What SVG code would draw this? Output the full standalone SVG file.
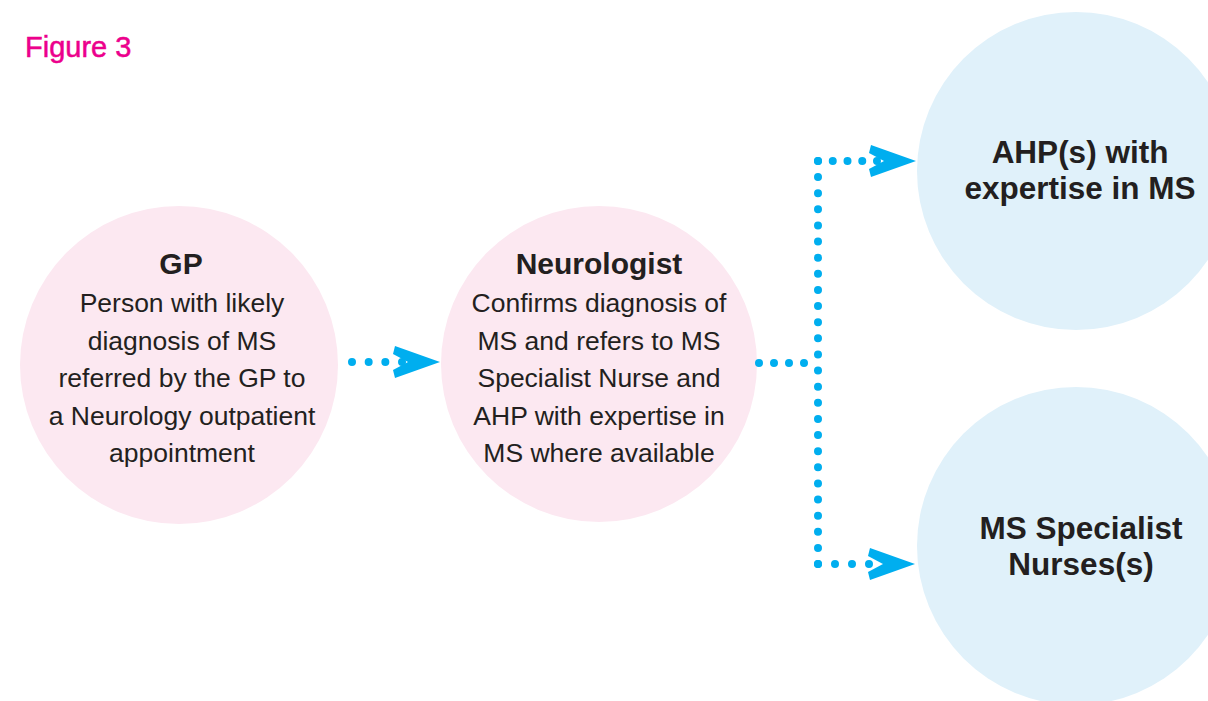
<svg xmlns="http://www.w3.org/2000/svg" width="1208" height="701" viewBox="0 0 1208 701">
<style>
.pink{fill:#fce8f1}
.blue{fill:#e0f1fa}
.title{font-family:"Liberation Sans",Arial,sans-serif;font-weight:bold;font-size:30px;fill:#231f20;text-anchor:middle}
.big{font-family:"Liberation Sans",Arial,sans-serif;font-weight:bold;font-size:31.5px;fill:#231f20;text-anchor:middle}
.body{font-family:"Liberation Sans",Arial,sans-serif;font-size:26.5px;fill:#231f20;text-anchor:middle}
.dots{stroke:#00aeef;stroke-width:8;stroke-linecap:round;fill:none}
.head{fill:#00aeef}
</style>
<defs>
<polygon id="chev" points="0,0 -45,-16 -47,-8 -32,0 -47,8 -45,16"/>
</defs>
<rect width="1208" height="701" fill="#ffffff"/>
<text x="25" y="57" font-family="'Liberation Sans',Arial,sans-serif" font-size="29" fill="#ec008c" stroke="#ec008c" stroke-width="0.5">Figure 3</text>
<g id="gp">
<circle class="pink" cx="179" cy="365" r="159"/>
<text class="title" x="181" y="274">GP</text>
<text class="body" x="182" y="312">Person with likely</text>
<text class="body" x="182" y="349.5">diagnosis of MS</text>
<text class="body" x="182" y="387">referred by the GP to</text>
<text class="body" x="182" y="424.5">a Neurology outpatient</text>
<text class="body" x="182" y="462">appointment</text>
</g>
<g id="neurologist">
<circle class="pink" cx="599" cy="364" r="158"/>
<text class="title" x="599" y="274">Neurologist</text>
<text class="body" x="599" y="312">Confirms diagnosis of</text>
<text class="body" x="599" y="349.5">MS and refers to MS</text>
<text class="body" x="599" y="387">Specialist Nurse and</text>
<text class="body" x="599" y="424.5">AHP with expertise in</text>
<text class="body" x="599" y="462">MS where available</text>
</g>
<g id="ahp">
<circle class="blue" cx="1076" cy="171" r="159"/>
<text class="big" x="1080" y="163">AHP(s) with</text>
<text class="big" x="1080" y="199">expertise in MS</text>
</g>
<g id="nurse">
<circle class="blue" cx="1076" cy="546" r="159"/>
<text class="big" x="1081" y="539">MS Specialist</text>
<text class="big" x="1081" y="575">Nurses(s)</text>
</g>
<g id="connectors">
<line class="dots" x1="352" y1="362" x2="403" y2="362" stroke-dasharray="0 16.67"/>
<use href="#chev" class="head" x="440" y="362"/>
<line class="dots" x1="759" y1="363" x2="805" y2="363" stroke-dasharray="0 15"/>
<line class="dots" x1="818" y1="161" x2="818" y2="565" stroke-dasharray="0 16.12"/>
<line class="dots" x1="818" y1="161" x2="878" y2="161" stroke-dasharray="0 14.75"/>
<use href="#chev" class="head" x="916" y="161"/>
<line class="dots" x1="818" y1="564" x2="870" y2="564" stroke-dasharray="0 17"/>
<use href="#chev" class="head" x="915" y="564"/>
</g>
</svg>
